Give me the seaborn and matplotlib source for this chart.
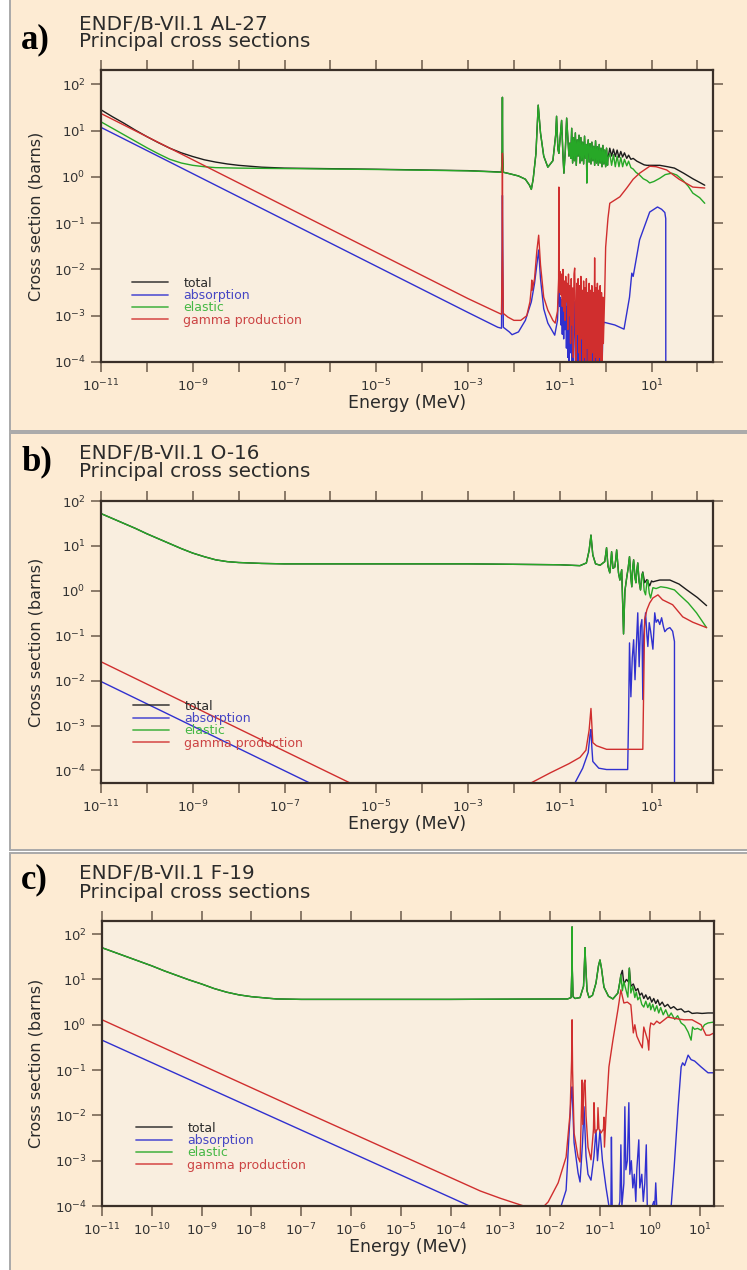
import numpy as np
import matplotlib
matplotlib.use("Agg")
import matplotlib.pyplot as plt
import seaborn as sns
from matplotlib.patches import Rectangle
from matplotlib.ticker import FixedLocator, FuncFormatter, NullLocator

# ------------------------------------------------------------------
# Data: log10(Energy / MeV) and log10(cross section / barns), read off
# the log-log plots.  Values below the axis floor are drawn on the floor.
# ------------------------------------------------------------------
SERIES = ["total", "absorption", "elastic", "gamma production"]

# ---------------- a) Al-27 ----------------
a_low_logE = [-11, -10.75, -10.5, -10.25, -10, -9.75, -9.5, -9.25, -9, -8.75, -8.5, -8.25,
              -8, -7.5, -7, -5, -3, -2.5, -2.3]
a_el_low_logS = [1.19, 1.05, 0.91, 0.77, 0.63, 0.50, 0.38, 0.30, 0.25, 0.22, 0.20, 0.195,
                 0.19, 0.185, 0.18, 0.16, 0.13, 0.11, 0.10]
a_tot_low_logS = [1.45, 1.30, 1.16, 1.01, 0.87, 0.74, 0.62, 0.52, 0.44, 0.37, 0.32, 0.28,
                  0.25, 0.21, 0.19, 0.165, 0.135, 0.115, 0.105]
a_res_logE = [-2.27, -2.255, -2.25, -2.245, -2.23, -2.1, -1.9, -1.75, -1.66, -1.62,
              -1.58, -1.52, -1.47, -1.42, -1.35, -1.26, -1.15, -1.09, -1.07, -1.04,
              -1.02, -0.96, -0.93, -0.91, -0.88, -0.85,
              -0.80, -0.78, -0.76, -0.74, -0.72, -0.70, -0.68, -0.66, -0.64, -0.62,
              -0.60, -0.58, -0.56, -0.54, -0.52, -0.50, -0.48, -0.46, -0.44, -0.42,
              -0.41, -0.40, -0.38, -0.36, -0.34, -0.32, -0.30, -0.28, -0.26, -0.24,
              -0.22, -0.20, -0.18, -0.16, -0.14, -0.12, -0.10, -0.08, -0.06, -0.04,
              -0.02, 0.0, 0.02, 0.04, 0.05]
a_res_logS = [0.10, 0.60, 1.72, 0.50, 0.10, 0.07, 0.02, -0.05, -0.18, -0.27,
              -0.05, 0.50, 1.55, 0.95, 0.45, 0.21, 0.35, 0.90, 1.31, 0.60,
              0.51, 1.22, 0.45, 0.08, 0.55, 1.27,
              0.45, 0.73, 0.40, 1.05, 0.30, 0.85, 0.35, 0.95, 0.25, 0.80,
              0.45, 0.90, 0.30, 0.85, 0.35, 0.75, 0.28, 0.88, 0.40, 0.70,
              -0.13, 0.50, 0.80, 0.32, 0.72, 0.28, 0.75, 0.35, 0.66, 0.25,
              0.78, 0.30, 0.65, 0.25, 0.70, 0.30, 0.62, 0.22, 0.68, 0.28,
              0.58, 0.22, 0.62, 0.25, 0.40]
a_el_hi_logE = [0.09, 0.13, 0.17, 0.21, 0.25, 0.29, 0.33, 0.37, 0.41, 0.46, 0.50, 0.55,
                0.60, 0.66, 0.74, 0.82, 0.90, 0.96, 1.05, 1.18, 1.30, 1.44, 1.55, 1.68,
                1.80, 1.90, 2.05, 2.16]
a_el_hi_logS = [0.50, 0.25, 0.48, 0.22, 0.45, 0.22, 0.42, 0.22, 0.38, 0.24, 0.34, 0.20,
                0.17, 0.10, 0.04, -0.04, -0.08, -0.13, -0.10, -0.03, 0.05, 0.08, 0.04, -0.07,
                -0.20, -0.35, -0.45, -0.57]
a_tot_hi_logE = [0.09, 0.13, 0.17, 0.21, 0.25, 0.29, 0.33, 0.37, 0.41, 0.46, 0.50, 0.55,
                 0.60, 0.68, 0.76, 0.84, 0.90, 1.00, 1.18, 1.35, 1.50, 1.70, 1.90, 2.05, 2.16]
a_tot_hi_logS = [0.62, 0.45, 0.60, 0.44, 0.58, 0.42, 0.55, 0.43, 0.52, 0.40, 0.47, 0.38,
                 0.40, 0.34, 0.30, 0.26, 0.25, 0.25, 0.25, 0.22, 0.19, 0.08, -0.04, -0.12, -0.18]
a_noise_logE = [-0.99, -0.975, -0.96, -0.945, -0.93, -0.915, -0.90, -0.885, -0.87, -0.855,
                -0.84, -0.825, -0.81, -0.795, -0.78, -0.765, -0.75, -0.735, -0.72, -0.705,
                -0.69, -0.675, -0.66, -0.645, -0.63, -0.615, -0.60, -0.585, -0.57, -0.555,
                -0.54, -0.525, -0.51, -0.495, -0.48, -0.465, -0.45, -0.435, -0.42, -0.405,
                -0.39, -0.375, -0.36, -0.345, -0.33, -0.315, -0.30, -0.285, -0.27, -0.255,
                -0.24, -0.225, -0.21, -0.195, -0.18, -0.165, -0.15, -0.135, -0.12, -0.105,
                -0.09, -0.075, -0.06]
a_gam_logE = ([-11, -9, -7, -5, -3, -2.27, -2.255, -2.25, -2.245, -2.23, -2.13, -2.0, -1.85,
               -1.72, -1.65, -1.62, -1.61, -1.6, -1.55, -1.5, -1.46, -1.42, -1.35, -1.26,
               -1.15, -1.1, -1.05, -1.025, -1.02, -1.015, -1.0]
              + a_noise_logE
              + [-0.05, -0.02, 0.0, 0.05, 0.09, 0.2, 0.31, 0.46, 0.6, 0.74, 0.96, 1.1, 1.33,
                 1.6, 1.9, 2.16])
a_gam_logS = [1.37, 0.37, -0.63, -1.63, -2.63, -2.97, -1.5, 0.51, -1.5, -2.95, -3.03, -3.1, -3.1,
              -3.0, -2.7, -2.4, -2.23, -2.45, -2.2, -1.6, -1.26, -1.9, -2.6, -2.88,
              -3.1, -3.16, -2.9, -2.2, -0.22, -2.0, -2.5,
              -2.05, -2.55, -2.1, -2.8, -2.0, -2.9, -2.25, -3.1, -2.15, -2.7,
              -2.3, -3.3, -2.1, -3.0, -2.35, -3.6, -2.2, -3.2, -2.4, -3.9,
              -2.1, -1.97, -2.9, -4.3, -2.3, -3.4, -2.2, -3.8, -2.35, -4.3,
              -2.15, -3.5, -2.45, -4.3, -2.25, -3.9, -2.4, -4.3, -2.2, -3.7,
              -2.5, -4.3, -2.3, -4.0, -2.45, -4.3, -2.35, -3.8, -2.5, -4.3,
              -1.75, -3.9, -2.4, -4.3, -2.3, -4.3, -2.45, -3.9, -2.35, -4.3,
              -2.5, -4.3, -2.6,
              -3.6, -2.5, -1.52, -0.9, -0.57, -0.5, -0.43, -0.24, -0.05, 0.08, 0.23, 0.22, 0.15,
              -0.05, -0.22, -0.24]
a_abs_logE = ([-11, -9, -7, -5, -3, -2.35, -2.27, -2.26, -2.25, -2.24, -2.23, -2.1, -2.04,
               -1.9, -1.75, -1.62, -1.55, -1.5, -1.46, -1.42, -1.35, -1.26, -1.11, -1.05,
               -1.025, -1.02, -1.015, -1.0]
              + a_noise_logE
              + [-0.04, 0.2, 0.4, 0.52, 0.57, 0.6, 0.74, 0.96, 1.13, 1.22, 1.29, 1.31, 1.311])
a_abs_logS = [1.07, 0.07, -0.93, -1.93, -2.93, -3.25, -3.27, -2.0, -0.4, -2.0, -3.25, -3.35, -3.41,
              -3.35, -3.1, -2.7, -2.3, -1.9, -1.58, -2.2, -2.85, -3.16, -3.42, -3.1,
              -2.5, -2.0, -2.5, -2.8,
              -2.6, -3.2, -2.65, -3.4, -2.6, -3.5, -2.75, -3.3, -2.7, -3.7,
              -2.8, -3.9, -2.7, -4.3, -2.85, -3.8, -2.75, -4.3, -2.9, -4.3,
              -2.8, -2.7, -4.0, -4.3, -2.9, -4.3, -2.85, -4.3, -3.0, -4.3,
              -2.9, -4.3, -3.05, -4.3, -2.95, -4.3, -3.1, -4.3, -3.0, -4.3,
              -3.1, -4.3, -3.05, -4.3, -3.2, -4.3, -3.1, -4.3, -3.2, -4.3,
              -2.9, -4.3, -3.2, -4.3, -3.15, -4.3, -3.3, -4.3, -3.2, -4.3,
              -3.3, -4.3, -3.3,
              -3.14, -3.2, -3.29, -2.6, -2.08, -2.15, -1.36, -0.76, -0.65, -0.7, -0.77, -0.9, -4.5]

# ---------------- b) O-16 ----------------
b_low_logE = [-11, -10.75, -10.5, -10.25, -10, -9.75, -9.5, -9.25, -9, -8.75, -8.5, -8.25,
              -8, -7.5, -7, -3, -1, -0.56]
b_low_logS = [1.72, 1.61, 1.50, 1.39, 1.27, 1.16, 1.05, 0.94, 0.84, 0.76, 0.69, 0.65,
              0.63, 0.61, 0.60, 0.60, 0.58, 0.56]
b_res_logE = [-0.42, -0.36, -0.32, -0.28, -0.22, -0.12, -0.02, 0.02, 0.05, 0.09, 0.11, 0.13,
              0.16, 0.2, 0.22, 0.24, 0.28, 0.31, 0.35, 0.39, 0.42, 0.46, 0.49, 0.52, 0.55,
              0.57, 0.59, 0.61, 0.64, 0.66, 0.68, 0.7, 0.73, 0.76, 0.79]
b_res_logS = [0.62, 0.90, 1.24, 0.80, 0.60, 0.57, 0.65, 0.96, 0.55, 0.40, 0.60, 0.87,
              0.50, 0.53, 0.70, 0.91, 0.40, 0.24, 0.47, -0.96, 0.00, 0.30, 0.50, 0.76, 0.30,
              0.09, 0.50, 0.69, 0.30, 0.18, 0.45, 0.62, 0.20, 0.02, 0.35]
b_el_hi_logE = [0.81, 0.84, 0.87, 0.9, 0.92, 0.95, 0.98, 1.03, 1.1, 1.2, 1.33, 1.5, 1.61,
                1.8, 1.98, 2.2]
b_el_hi_logS = [0.40, 0.00, -0.09, 0.20, 0.24, -0.05, -0.16, 0.07, 0.05, 0.09, 0.07, 0.02,
                -0.09, -0.27, -0.49, -0.82]
b_tot_hi_logE = [0.81, 0.85, 0.9, 0.96, 1.0, 1.03, 1.1, 1.18, 1.4, 1.6, 1.77, 2.0, 2.2]
b_tot_hi_logS = [0.42, 0.18, 0.25, 0.11, 0.22, 0.20, 0.22, 0.24, 0.24, 0.15, 0.02, -0.15, -0.33]
b_gam_logE = [-11, -5.57, -5.0, -1.63, -1.2, -0.8, -0.56, -0.43, -0.36, -0.32, -0.3, -0.28,
              -0.2, 0.02, 0.81, 0.85, 0.9, 0.96, 1.03, 1.14, 1.24, 1.46, 1.68, 1.9, 2.2]
b_gam_logS = [-1.58, -4.28, -4.6, -4.28, -4.05, -3.85, -3.71, -3.55, -3.1, -2.62, -3.0, -3.38,
              -3.45, -3.53, -3.53, -0.64, -0.42, -0.27, -0.16, -0.09, -0.2, -0.31, -0.58, -0.7, -0.82]
b_abs_logE = [-11, -6.45, -6.0, -0.7, -0.67, -0.5, -0.38, -0.34, -0.32, -0.3, -0.28, -0.15,
              0.02, 0.48, 0.5, 0.52, 0.55, 0.58, 0.61, 0.64, 0.67, 0.7, 0.73, 0.76, 0.79,
              0.81, 0.83, 0.87, 0.9, 0.92, 0.95, 0.98, 1.03, 1.07, 1.1, 1.14, 1.18, 1.22,
              1.26, 1.29, 1.34, 1.4, 1.46, 1.5, 1.501]
b_abs_logS = [-2.02, -4.28, -4.6, -4.6, -4.28, -3.95, -3.6, -3.2, -3.09, -3.5, -3.8, -3.95,
              -3.98, -3.98, -2.8, -1.16, -2.36, -1.5, -1.09, -1.98, -1.2, -0.49, -1.69, -0.8, -0.64,
              -2.42, -1.0, -0.49, -1.0, -1.24, -0.71, -0.9, -1.3, -0.49, -0.7, -0.64, -0.75, -0.6,
              -0.8, -0.91, -0.85, -0.82, -0.9, -1.13, -4.6]

# ---------------- c) F-19 ----------------
c_low_logE = [-11, -10.75, -10.5, -10.25, -10, -9.75, -9.5, -9.25, -9, -8.75, -8.5, -8.25,
              -8, -7.5, -7, -4, -1.65]
c_low_logS = [1.70, 1.60, 1.50, 1.40, 1.30, 1.19, 1.09, 0.99, 0.90, 0.80, 0.72, 0.66,
              0.62, 0.57, 0.56, 0.56, 0.57]
c_res_logE = [-1.58, -1.565, -1.56, -1.555, -1.54, -1.5, -1.4, -1.33, -1.31, -1.30, -1.29,
              -1.26, -1.22, -1.15, -1.08, -1.03, -1.0, -0.97, -0.92, -0.83, -0.74, -0.64,
              -0.6, -0.58]
c_res_logS = [0.60, 1.20, 2.16, 1.20, 0.62, 0.58, 0.60, 0.85, 1.40, 1.70, 1.40,
              0.75, 0.60, 0.65, 0.92, 1.30, 1.43, 1.25, 0.83, 0.63, 0.57, 0.70,
              0.95, 1.10]
c_el_hi_logE = [-0.55, -0.52, -0.48, -0.44, -0.41, -0.38, -0.34, -0.3, -0.27, -0.24, -0.2,
                -0.16, -0.12, -0.08, -0.04, 0.0, 0.02, 0.06, 0.1, 0.14, 0.18, 0.22, 0.27,
                0.32, 0.38, 0.43, 0.5, 0.56, 0.63, 0.7, 0.77, 0.83, 0.86, 0.9, 0.96, 1.03,
                1.1, 1.17, 1.29]
c_el_hi_logS = [0.75, 0.95, 0.78, 0.61, 1.25, 0.70, 0.85, 0.60, 0.72, 0.55, 0.62,
                0.45, 0.39, 0.52, 0.38, 0.48, 0.33, 0.45, 0.30, 0.42, 0.26, 0.38, 0.22,
                0.33, 0.17, 0.26, 0.12, 0.20, 0.04, -0.02, -0.16, -0.34, -0.05, -0.10, -0.08, -0.12,
                0.00, 0.04, 0.06]
c_tot_hi_logE = [-0.55, -0.52, -0.47, -0.43, -0.41, -0.38, -0.33, -0.28, -0.24, -0.2, -0.16,
                 -0.12, -0.08, -0.04, 0.0, 0.04, 0.08, 0.12, 0.16, 0.2, 0.25, 0.3, 0.36, 0.42,
                 0.48, 0.55, 0.63, 0.7, 0.78, 0.85, 0.95, 1.05, 1.17, 1.29]
c_tot_hi_logS = [1.20, 0.90, 1.00, 0.95, 1.25, 0.85, 0.90, 0.75, 0.80, 0.65, 0.70,
                 0.58, 0.66, 0.56, 0.62, 0.50, 0.58, 0.47, 0.55, 0.43, 0.50, 0.40, 0.45, 0.36,
                 0.40, 0.33, 0.35, 0.28, 0.30, 0.25, 0.26, 0.25, 0.26, 0.26]
c_gam_logE = [-11, -7, -3.4, -3.0, -2.53, -2.12, -2.04, -1.84, -1.68, -1.6, -1.57, -1.56, -1.55,
              -1.52, -1.44, -1.4, -1.37, -1.36, -1.345, -1.32, -1.3, -1.28, -1.24, -1.18, -1.13,
              -1.12, -1.1, -1.05, -1.04, -1.02, -0.98, -0.93, -0.92, -0.91, -0.88, -0.82, -0.74,
              -0.64, -0.58, -0.52, -0.45, -0.38, -0.33, -0.3, -0.26, -0.2, -0.15, -0.12, -0.08,
              -0.04, -0.02, 0.0, 0.02, 0.08, 0.14, 0.2, 0.28, 0.36, 0.5, 0.69, 0.85, 1.03, 1.13,
              1.2, 1.29]
c_gam_logS = [0.11, -1.89, -3.67, -3.83, -4.0, -4.0, -3.91, -3.49, -2.92, -1.95, -0.8, 0.11, -1.0,
              -2.39, -2.92, -3.03, -1.8, -1.22, -2.2, -1.3, -1.22, -2.0, -2.7, -2.98, -2.3,
              -1.72, -2.39, -2.3, -1.83, -2.3, -2.39, -2.3, -2.04, -2.7, -2.04, -0.93, -0.34,
              0.33, 0.77, 0.48, 0.5, 0.44, -0.18, 0.0, -0.25, -0.4, -0.51, -0.05, -0.2,
              -0.35, -0.56, -0.1, 0.04, 0.0, 0.08, 0.03, 0.1, 0.17, 0.14, 0.11, 0.11, 0.0, -0.23,
              -0.23, -0.18]
c_abs_logE = [-11, -3.62, -3.0, -1.8, -1.78, -1.68, -1.62, -1.58, -1.56, -1.54, -1.52, -1.44,
              -1.4, -1.35, -1.32, -1.28, -1.24, -1.18, -1.12, -1.08, -1.05, -1.0, -0.95, -0.88,
              -0.82, -0.78, -0.77, -0.755, -0.62, -0.6, -0.58, -0.56, -0.52, -0.5, -0.48, -0.45,
              -0.42, -0.4, -0.37, -0.34, -0.31, -0.28, -0.26, -0.22, -0.2, -0.16, -0.13, -0.1,
              -0.07, -0.05, 0.0, 0.05, 0.08, 0.1, 0.12, 0.14, 0.43, 0.49, 0.57, 0.63, 0.66,
              0.7, 0.77, 0.83, 0.9, 1.03, 1.17, 1.29]
c_abs_logS = [-0.34, -4.0, -4.3, -4.3, -4.0, -3.65, -2.39, -1.6, -1.37, -2.0, -2.6, -3.27,
              -3.47, -2.6, -1.81, -2.9, -3.3, -3.43, -2.9, -2.32, -3.0, -2.32, -3.0, -3.58,
              -4.0, -4.3, -2.48, -4.3, -4.3, -3.9, -2.65, -4.0, -3.5, -1.81, -3.2, -3.0,
              -1.72, -3.3, -3.0, -3.6, -3.3, -3.9, -3.2, -2.54, -3.6, -3.3, -3.9, -3.5,
              -2.65, -4.3, -4.0, -4.3, -3.9, -4.3, -3.49, -4.3, -4.3, -3.14, -1.81, -0.93, -0.84,
              -0.9, -0.67, -0.77, -0.8, -0.93, -1.06, -1.06]

# ------------------------------------------------------------------
# Style
# ------------------------------------------------------------------
sns.set_style("ticks")
plt.rcParams["font.family"] = ["DejaVu Sans"]
plt.rcParams["mathtext.fontset"] = "dejavusans"

LINE_COL = {"total": "#1c1c1c", "absorption": "#3030cf",
            "elastic": "#27a827", "gamma production": "#d02e2e"}
TEXT_COL = {"total": "#2a2a2a", "absorption": "#4646c4",
            "elastic": "#45b845", "gamma production": "#cc4444"}
PANEL_BG = "#FDEBD3"
AX_BG = "#F9EEDF"
SPINE = "#3a2f28"
TICK = "#6b5b4b"

W, H = 747, 1270
fig = plt.figure(figsize=(W / 100, H / 100), dpi=100)
fig.patch.set_facecolor("white")


def fx(px):
    return px / W


def fy(py):
    return 1 - py / H


def lin(v):
    return np.power(10.0, np.asarray(v, dtype=float))


panels = [
    dict(
        name="AL-27", letter="a)", box=(-5, 431.5), rect=(101, 70, 612, 292),
        xlim=(-11, 2.34), ylim=(-4, 2.31), xticks=range(-11, 3), xlabels=range(-11, 2, 2),
        title_base=(30, 47), letter_base=48, leg=(132, 284), ylab_x=36, xlab_y=403,
        series=[
            ("total", a_low_logE + a_res_logE + a_tot_hi_logE,
             a_tot_low_logS + a_res_logS + a_tot_hi_logS),
            ("absorption", a_abs_logE, a_abs_logS),
            ("elastic", a_low_logE + a_res_logE + a_el_hi_logE,
             a_el_low_logS + a_res_logS + a_el_hi_logS),
            ("gamma production", a_gam_logE, a_gam_logS),
        ]),
    dict(
        name="O-16", letter="b)", box=(433.5, 850), rect=(101, 501, 612, 282),
        xlim=(-11, 2.34), ylim=(-4.28, 2.0), xticks=range(-11, 3), xlabels=range(-11, 2, 2),
        title_base=(459, 477), letter_base=470, leg=(133, 707), ylab_x=36, xlab_y=824,
        series=[
            ("total", b_low_logE + b_res_logE + b_tot_hi_logE,
             b_low_logS + b_res_logS + b_tot_hi_logS),
            ("absorption", b_abs_logE, b_abs_logS),
            ("elastic", b_low_logE + b_res_logE + b_el_hi_logE,
             b_low_logS + b_res_logS + b_el_hi_logS),
            ("gamma production", b_gam_logE, b_gam_logS),
        ]),
    dict(
        name="F-19", letter="c)", box=(853, 1280), rect=(102, 921, 612, 285),
        xlim=(-11, 1.29), ylim=(-4, 2.29), xticks=range(-11, 2), xlabels=range(-11, 2),
        title_base=(879, 898), letter_base=888, leg=(136, 1129), ylab_x=36, xlab_y=1247,
        series=[
            ("total", c_low_logE + c_res_logE + c_tot_hi_logE,
             c_low_logS + c_res_logS + c_tot_hi_logS),
            ("absorption", c_abs_logE, c_abs_logS),
            ("elastic", c_low_logE + c_res_logE + c_el_hi_logE,
             c_low_logS + c_res_logS + c_el_hi_logS),
            ("gamma production", c_gam_logE, c_gam_logS),
        ]),
]

LEG_FS = 9.0
LEG_PX = LEG_FS * 100 / 72

for p in panels:
    # panel background box
    y0, y1 = p["box"]
    fig.add_artist(Rectangle((fx(9.5), fy(y1)), fx(800), (y1 - y0) / H,
                             transform=fig.transFigure, facecolor=PANEL_BG,
                             edgecolor="#A9A9A9", lw=1.4, zorder=-5))

    L, T, Wd, Ht = p["rect"]
    ax = fig.add_axes([fx(L), fy(T + Ht), Wd / W, Ht / H])
    ax.set_facecolor(AX_BG)

    floor = p["ylim"][0]
    for name, le, ls in p["series"]:
        E = lin(le)
        S = lin(np.maximum(np.asarray(ls, dtype=float), floor))
        sns.lineplot(x=E, y=S, ax=ax, color=LINE_COL[name], lw=1.0,
                     sort=False, estimator=None, label=name)

    ax.set_xscale("log")
    ax.set_yscale("log")
    ax.set_xlim(lin(p["xlim"][0]), lin(p["xlim"][1]))
    ax.set_ylim(lin(p["ylim"][0]), lin(p["ylim"][1]))

    xlab_set = set(p["xlabels"])
    ax.xaxis.set_major_locator(FixedLocator([10.0 ** k for k in p["xticks"]]))
    ax.xaxis.set_minor_locator(NullLocator())
    ax.xaxis.set_major_formatter(FuncFormatter(
        lambda v, pos, s=xlab_set: (r"$10^{%d}$" % int(round(np.log10(v))))
        if int(round(np.log10(v))) in s else ""))
    ax.yaxis.set_major_locator(FixedLocator([10.0 ** k for k in range(-4, 3)]))
    ax.yaxis.set_minor_locator(NullLocator())
    ax.yaxis.set_major_formatter(FuncFormatter(
        lambda v, pos: r"$10^{%d}$" % int(round(np.log10(v)))))

    ax.tick_params(axis="both", which="major", direction="out", length=7, width=1.1,
                   color=TICK, labelsize=9.5, labelcolor="#333333",
                   top=True, right=True, labeltop=False, labelright=False, pad=4)
    for s in ax.spines.values():
        s.set_color(SPINE)
        s.set_linewidth(1.6)

    ax.set_xlabel("Energy (MeV)", fontsize=12.5, color="#2a2a2a")
    ax.set_ylabel("Cross section (barns)", fontsize=11.5, color="#2a2a2a")
    ax.xaxis.set_label_coords(0.5, (T + Ht - p["xlab_y"]) / Ht)
    ax.xaxis.label.set_va("center")
    ax.yaxis.set_label_coords((p["ylab_x"] - L) / Wd, 0.5)
    ax.yaxis.label.set_va("center")

    # legend
    h, lab = ax.get_legend_handles_labels()
    lx, ly = p["leg"]
    text_h = LEG_PX * 1.164
    top_px = ly - text_h / 2
    leg = ax.legend(h, lab, loc="upper left",
                    bbox_to_anchor=((lx - L) / Wd, (T + Ht - top_px) / Ht),
                    frameon=False, fontsize=LEG_FS, handlelength=2.9, handletextpad=1.2,
                    labelspacing=-0.05, borderpad=0, borderaxespad=0)
    for t, n in zip(leg.get_texts(), lab):
        t.set_color(TEXT_COL[n])
    for ln in leg.get_lines():
        ln.set_linewidth(1.3)
        ln.set_alpha(0.75)

    # titles and panel letter
    b1, b2 = p["title_base"]
    fig.text(fx(79), fy(b1), "ENDF/B-VII.1 " + p["name"], fontsize=14.3,
             color="#2b2b2b", va="baseline", ha="left")
    fig.text(fx(79), fy(b2), "Principal cross sections", fontsize=14.3,
             color="#2b2b2b", va="baseline", ha="left")
    fig.text(fx(21), fy(p["letter_base"]), p["letter"], fontsize=25,
             family=["Liberation Serif", "DejaVu Serif"], weight="bold",
             color="black", va="baseline", ha="left")

fig.savefig("out.png", dpi=100, facecolor=fig.get_facecolor())
